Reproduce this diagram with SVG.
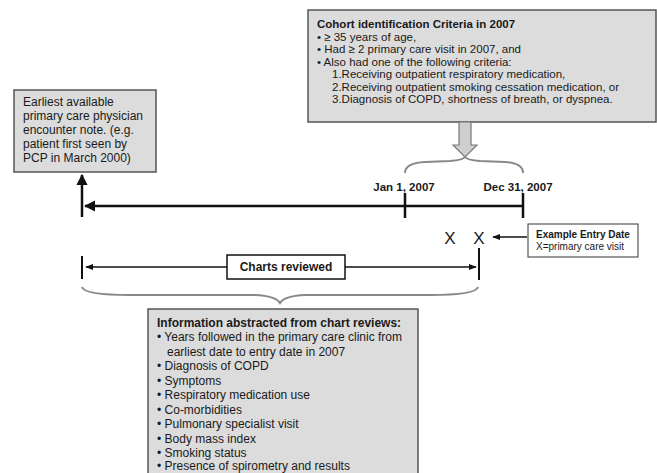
<svg xmlns="http://www.w3.org/2000/svg" width="657" height="473" viewBox="0 0 657 473">
<style>
text{font-family:"Liberation Sans",Arial,sans-serif;fill:#1a1a1a}
.t{font-size:12px}
.s{font-size:11.5px}
.b{font-weight:bold}
.box{fill:#dcdcdc;stroke:#555;stroke-width:1.5}
.ln{stroke:#111;stroke-width:2.5;fill:none}
.thin{stroke:#111;stroke-width:1.3;fill:none}
.brace{stroke:#888;stroke-width:2;fill:none}
</style>
<defs>
<marker id="ah" viewBox="0 0 10 10" refX="9" refY="5" markerWidth="4.5" markerHeight="4.5" orient="auto-start-reverse"><path d="M0,0L10,5L0,10z" fill="#111"/></marker>
<marker id="ahs" viewBox="0 0 10 10" refX="9" refY="5" markerWidth="6" markerHeight="6" orient="auto-start-reverse"><path d="M0,1L10,5L0,9z" fill="#111"/></marker>
</defs>
<g id="cohort">
<rect class="box" x="308" y="10" width="348" height="112"/>
<text class="s b" x="317" y="28">Cohort identification Criteria in 2007</text>
<text class="s" x="317" y="40.5">• ≥ 35 years of age,</text>
<text class="s" x="317" y="53">• Had ≥ 2 primary care visit in 2007, and</text>
<text class="s" x="317" y="65.5">• Also had one of the following criteria:</text>
<text class="s" x="332" y="78">1.Receiving outpatient respiratory medication,</text>
<text class="s" x="332" y="90.5">2.Receiving outpatient smoking cessation medication, or</text>
<text class="s" x="332" y="103">3.Diagnosis of COPD, shortness of breath, or dyspnea.</text>
</g>
<g id="earliest">
<rect class="box" x="14" y="90" width="142" height="82"/>
<text class="t" x="23" y="106">Earliest available</text>
<text class="t" x="23" y="120">primary care physician</text>
<text class="t" x="23" y="134">encounter note. (e.g.</text>
<text class="t" x="23" y="148">patient first seen by</text>
<text class="t" x="23" y="162">PCP in March 2000)</text>
</g>
<g id="example">
<rect x="528" y="224" width="110" height="33" fill="#fff" stroke="#555" stroke-width="1.2"/>
<text x="536" y="238" font-size="10" class="b">Example Entry Date</text>
<text x="536" y="250" font-size="10">X=primary care visit</text>
</g>
<g id="charts">
<rect x="227" y="255" width="118" height="24" fill="#fff" stroke="#111" stroke-width="1.5"/>
<text class="t b" x="286" y="271" text-anchor="middle">Charts reviewed</text>
</g>
<g id="info">
<rect class="box" x="148" y="309" width="270" height="170"/>
<text class="t b" x="157" y="327">Information abstracted from chart reviews:</text>
<text class="t" x="157" y="341">• Years followed in the primary care clinic from</text>
<text class="t" x="167" y="355.5">earliest date to entry date in 2007</text>
<text class="t" x="157" y="370">• Diagnosis of COPD</text>
<text class="t" x="157" y="384.5">• Symptoms</text>
<text class="t" x="157" y="399">• Respiratory medication use</text>
<text class="t" x="157" y="413.5">• Co-morbidities</text>
<text class="t" x="157" y="428">• Pulmonary specialist visit</text>
<text class="t" x="157" y="442.5">• Body mass index</text>
<text class="t" x="157" y="457">• Smoking status</text>
<text class="t" x="157" y="470">• Presence of spirometry and results</text>
</g>
<g id="labels">
<text class="b" font-size="11.5" x="404" y="191" text-anchor="middle">Jan 1, 2007</text>
<text class="b" font-size="11.5" x="518" y="191" text-anchor="middle">Dec 31, 2007</text>
<text x="450" y="244" font-size="17" text-anchor="middle">X</text>
<text x="479" y="244" font-size="17" text-anchor="middle">X</text>
</g>
<g id="connectors">
<path d="M459,122 H471 V145 H477 L465,157 L453,145 H459 Z" fill="#cfcfcf" stroke="#777" stroke-width="1.2"/>
<path class="brace" d="M405,173 Q405,163 425,162 L450,161 Q463,160 465,157 Q467,160 480,161 L505,162 Q523,163 523,173"/>
<path class="ln" d="M523,206 H85" marker-end="url(#ah)"/>
<line class="ln" x1="405" y1="193" x2="405" y2="218"/>
<line class="ln" x1="523" y1="193" x2="523" y2="218"/>
<path class="ln" d="M82,217 V175" marker-end="url(#ah)"/>
<path class="thin" d="M527,237 H493" marker-end="url(#ahs)"/>
<line x1="479" y1="248" x2="479" y2="280" stroke="#111" stroke-width="2"/>
<line x1="82" y1="256" x2="82" y2="279" stroke="#111" stroke-width="2"/>
<path class="thin" d="M86,267 H227" marker-start="url(#ahs)"/>
<path class="thin" d="M345,267 H476" marker-end="url(#ahs)"/>
<path class="brace" d="M82,287 Q84,295 130,295 L255,295 Q276,296 280,303 Q284,296 305,295 L430,295 Q476,295 478,287"/>
</g>
</svg>
